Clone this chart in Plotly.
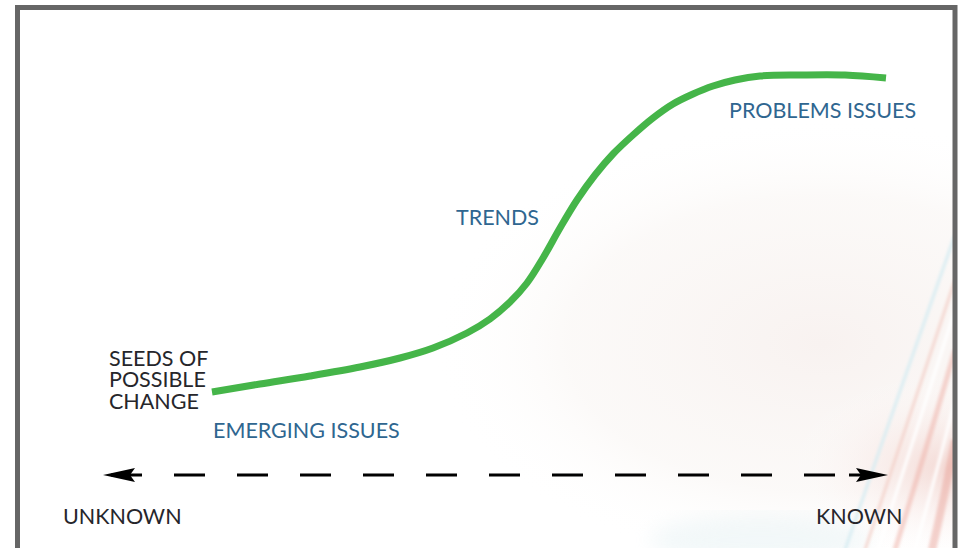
import base64
import plotly.graph_objects as go

# ---- data (canvas units: x to the right, y downward) ----
curve_x = [212, 260, 310, 360, 400, 433, 467, 490, 510, 527, 543, 560, 577,
           595, 613, 633, 653, 673, 693, 713, 735, 760, 800, 845, 886]
curve_y = [392, 384, 376, 367, 358, 348, 333, 319, 302, 283, 258, 228, 200,
           175, 154, 135, 118, 104, 94, 86, 80, 76, 75, 75, 78]

axis_x = [111, 842]          # dashed "unknown -> known" axis extent
axis_y = 475
seed_lines = ["SEEDS OF", "POSSIBLE", "CHANGE"]
stage_labels = ["EMERGING ISSUES", "TRENDS", "PROBLEMS ISSUES"]
end_labels = ["UNKNOWN", "KNOWN"]

W, H = 961, 548
GREEN = "#45b549"
BLUE = "#2f6690"
DARK = "#26262b"
FONT = "Lato, 'Noto Sans', sans-serif"
FS = 21.5

# ---- faint decorative background (SVG) ----
svg = """<svg xmlns='http://www.w3.org/2000/svg' width='933' height='538' viewBox='0 0 933 538'>
<defs>
<radialGradient id='g1' cx='0.86' cy='0.62' r='0.42'>
<stop offset='0' stop-color='#f8f2f0' stop-opacity='1'/>
<stop offset='0.65' stop-color='#faf7f5' stop-opacity='0.7'/>
<stop offset='1' stop-color='#ffffff' stop-opacity='0'/>
</radialGradient>
<radialGradient id='g2' cx='1' cy='0.85' r='0.18'>
<stop offset='0' stop-color='#f1cfc9' stop-opacity='0.8'/>
<stop offset='1' stop-color='#ffffff' stop-opacity='0'/>
</radialGradient>
<filter id='b'><feGaussianBlur stdDeviation='1.5'/></filter>
<filter id='b2'><feGaussianBlur stdDeviation='10'/></filter>
</defs>
<rect width='933' height='538' fill='#ffffff'/>
<rect width='933' height='538' fill='url(#g1)'/>
<rect width='933' height='538' fill='url(#g2)'/>
<g filter='url(#b2)' opacity='0.35'>
<ellipse cx='740' cy='530' rx='110' ry='25' fill='#dcecef'/>
</g>
<g fill='none' filter='url(#b)'>
<path d='M 825 540 Q 880 380 935 225' stroke='#d6ecf2' stroke-width='3' opacity='0.9'/>
<path d='M 845 540 Q 895 390 935 270' stroke='#f3cfc8' stroke-width='3' opacity='0.8'/>
<path d='M 858 540 Q 903 400 935 300' stroke='#ffffff' stroke-width='3' opacity='1'/>
<path d='M 875 540 Q 912 420 935 340' stroke='#eeb3aa' stroke-width='5' opacity='0.55'/>
<path d='M 895 540 Q 920 450 935 390' stroke='#ffffff' stroke-width='3' opacity='1'/>
<path d='M 912 540 Q 926 480 935 430' stroke='#eaa59b' stroke-width='8' opacity='0.5'/>
</g>
</svg>"""
svg_uri = "data:image/svg+xml;base64," + base64.b64encode(svg.encode()).decode()

fig = go.Figure()

# dashed axis
fig.add_trace(go.Scatter(x=axis_x, y=[axis_y, axis_y], mode="lines",
                         line=dict(color="black", width=3, dash="31px,32px"),
                         hoverinfo="skip", showlegend=False))
fig.add_trace(go.Scatter(x=[849, 866], y=[axis_y, axis_y], mode="lines",
                         line=dict(color="black", width=3),
                         hoverinfo="skip", showlegend=False))

# S-curve
fig.add_trace(go.Scatter(x=curve_x, y=curve_y, mode="lines",
                         line=dict(color=GREEN, width=7, shape="spline", smoothing=1.0),
                         hoverinfo="skip", showlegend=False))

shapes = [
    # frame
    dict(type="rect", xref="x", yref="y", x0=17.5, x1=955, y0=7.5, y1=570,
         line=dict(color="#666666", width=5), fillcolor="rgba(0,0,0,0)", layer="above"),
    # arrowheads
    dict(type="path", xref="x", yref="y",
         path=f"M 103 {axis_y} L 135 {axis_y-7} L 130 {axis_y} L 135 {axis_y+7} Z",
         fillcolor="black", line=dict(width=0)),
    dict(type="path", xref="x", yref="y",
         path=f"M 888 {axis_y} L 856 {axis_y-7} L 861 {axis_y} L 856 {axis_y+7} Z",
         fillcolor="black", line=dict(width=0)),
]

ann = []
for i, t in enumerate(seed_lines):
    ann.append(dict(x=107, y=357.5 + 21.5 * i, text=t, font=dict(color=DARK)))
ann.append(dict(x=211, y=429.5, text=stage_labels[0], font=dict(color=BLUE)))
ann.append(dict(x=454, y=216.5, text=stage_labels[1], font=dict(color=BLUE)))
ann.append(dict(x=727, y=109.5, text=stage_labels[2], font=dict(color=BLUE)))
ann.append(dict(x=61, y=516, text=end_labels[0], font=dict(color=DARK)))
ann.append(dict(x=814, y=516, text=end_labels[1], font=dict(color=DARK)))
for a in ann:
    a.update(xref="x", yref="y", xanchor="left", yanchor="middle", showarrow=False)
    a["font"].update(family=FONT, size=FS)

fig.update_layout(
    width=W, height=H, margin=dict(l=0, r=0, t=0, b=0),
    paper_bgcolor="white", plot_bgcolor="rgba(0,0,0,0)",
    xaxis=dict(range=[0, W], visible=False, fixedrange=True),
    yaxis=dict(range=[H, 0], visible=False, fixedrange=True),
    shapes=shapes, annotations=ann,
    images=[dict(source=svg_uri, xref="x", yref="y",
                 x=20, y=10, sizex=933, sizey=538,
                 xanchor="left", yanchor="top", sizing="stretch", layer="below")],
)

fig.write_html("out.html", config={"displayModeBar": False, "staticPlot": True},
               post_script="document.body.style.margin='0px';")
